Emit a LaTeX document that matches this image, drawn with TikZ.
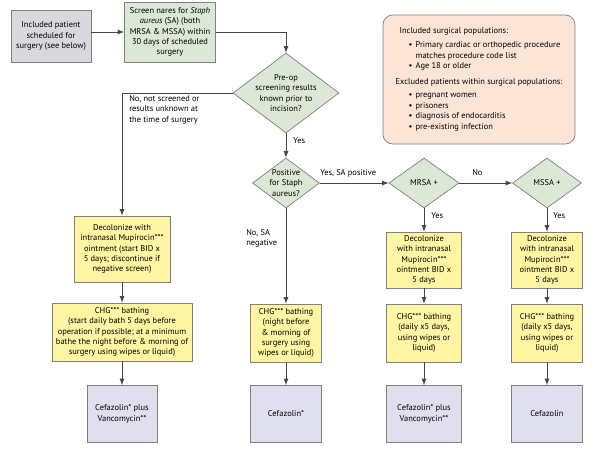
\documentclass[tikz,border=0pt]{standalone}
\usepackage{fontspec}
\setmainfont{PT Sans}
\usetikzlibrary{shapes.geometric}
\definecolor{boxgray}{RGB}{217,217,221}
\definecolor{boxgreen}{RGB}{218,232,213}
\definecolor{boxyellow}{RGB}{255,245,163}
\definecolor{boxlav}{RGB}{223,223,238}
\definecolor{boxpeach}{RGB}{252,229,215}
\definecolor{edgegray}{RGB}{128,128,128}
\definecolor{linegray}{RGB}{70,70,70}
\newcommand*{\popitem}[1]{\hspace*{9.2pt}\makebox[5pt][l]{\textbullet}#1}
\newcommand*{\popcont}[1]{\hspace*{14.2pt}#1}
\tikzset{
	stepbox/.style={draw=edgegray, line width=0.5pt, align=center, inner sep=1pt},
	decision/.style={diamond, draw=edgegray, fill=boxgreen, line width=0.5pt, align=center, inner sep=-6pt, minimum height=1.25cm},
	flow/.style={draw=linegray, line width=0.6pt, -latex},
	lbl/.style={align=left, inner sep=0pt},
}

\begin{document}
\begin{tikzpicture}[x=0.025cm, y=-0.025cm, font=\fontsize{6}{7.4}\selectfont]
		\useasboundingbox(0, 0)rectangle(600, 450);
		\node[stepbox, fill=boxgray, minimum width=2cm, minimum height=1.3cm](patient)at(51, 36){Included patient\\scheduled for\\surgery (see below)};
		\node[stepbox, fill=boxgreen, minimum width=2.275cm, minimum height=1.5cm](screen)at(170, 32){Screen nares for \textit{Staph}\\\textit{aureus} (SA) (both\\MRSA \& MSSA) within\\30 days of scheduled\\surgery};
		\node[decision, minimum width=2.65cm, minimum height=2cm](preop)at(286, 93){Pre-op\\screening results\\known prior to\\incision?};
		\node[decision, minimum width=1.675cm](posit)at(286, 183){Positive\\for Staph\\aureus?};
		\node[decision, minimum width=1.75cm](mrsa)at(424, 183){MRSA +};
		\node[decision, minimum width=1.725cm](mssa)at(547, 183){MSSA +};
		\node[draw=edgegray, fill=boxpeach, line width=0.5pt, rounded corners=7pt, align=left, minimum width=4.8cm, minimum height=3.225cm](pop)at(479, 79.5){\hspace*{2.8pt}Included surgical populations:\\[2.5pt]
			\popitem{Primary cardiac or orthopedic procedure}\\
			\popcont{matches procedure code list}\\
			\popitem{Age 18 or older}\\[3.5pt]
			Excluded patients within surgical populations:\\[2.5pt]
			\popitem{pregnant women}\\
			\popitem{prisoners}\\
			\popitem{diagnosis of endocarditis}\\
			\popitem{pre-existing infection}};
		\node[stepbox, fill=boxyellow, minimum width=2.4cm, minimum height=1.65cm](decolA)at(122, 249){Decolonize with\\intranasal Mupirocin***\\ointment (start BID x\\5 days; discontinue if\\negative screen)};
		\node[stepbox, fill=boxyellow, minimum width=3.5cm, minimum height=1.45cm](chgA)at(122, 332){CHG*** bathing\\(start daily bath 5 days before\\operation if possible; at a minimum\\bathe the night before \& morning of\\surgery using wipes or liquid)};
		\node[stepbox, fill=boxlav, minimum width=1.75cm, minimum height=1.425cm](cefA)at(122, 414){Cefazolin* plus\\Vancomycin**};
		\node[stepbox, fill=boxyellow, minimum width=1.775cm, minimum height=1.45cm](chgB)at(286, 333){CHG*** bathing\\(night before\\\& morning of\\surgery using\\wipes or liquid)};
		\node[stepbox, fill=boxlav, minimum width=1.775cm, minimum height=1.425cm](cefB)at(286, 414){Cefazolin*};
		\node[stepbox, fill=boxyellow, minimum width=1.875cm, minimum height=1.4cm](decolC)at(424, 260){Decolonize\\with intranasal\\Mupirocin***\\ointment BID x\\5 days};
		\node[stepbox, fill=boxyellow, minimum width=1.875cm, minimum height=1.45cm](chgC)at(424, 333){CHG*** bathing\\(daily x5 days,\\using wipes or\\liquid)};
		\node[stepbox, fill=boxlav, minimum width=1.875cm, minimum height=1.425cm](cefC)at(424, 414){Cefazolin* plus\\Vancomycin**};
		\node[stepbox, fill=boxyellow, minimum width=1.775cm, minimum height=1.4cm](decolD)at(547, 260){Decolonize\\with intranasal\\Mupirocin***\\ointment BID x\\5 days};
		\node[stepbox, fill=boxyellow, minimum width=1.775cm, minimum height=1.45cm](chgD)at(547, 333){CHG*** bathing\\(daily x5 days,\\using wipes or\\liquid)};
		\node[stepbox, fill=boxlav, minimum width=1.775cm, minimum height=1.425cm](cefD)at(547, 414){Cefazolin};
		\node[lbl, anchor=north west](unknownlbl)at(129, 95){No, not screened or\\results unknown at\\the time of surgery};
		\node[lbl, anchor=west](yesknown)at(293, 141){Yes};
		\node[lbl, anchor=west](poslbl)at(320, 173){Yes, SA positive};
		\node[lbl, anchor=west](nomrsa)at(472, 173){No};
		\node[lbl, anchor=west](yesmrsa)at(431, 216){Yes};
		\node[lbl, anchor=west](yesmssa)at(553, 216){Yes};
		\node[lbl, anchor=north west](neglbl)at(246, 229){No, SA\\negative};
		\draw[flow](patient.east |- screen.west)--(screen.west);
		\draw[flow](screen.east)-|(preop.north);
		\draw[flow](preop.west)-|(decolA.north);
		\draw[flow](preop.south)--(posit.north);
		\draw[flow](posit.east)--(mrsa.west);
		\draw[flow](mrsa.east)--(mssa.west);
		\draw[flow](mrsa.south)--(decolC.north);
		\draw[flow](mssa.south)--(decolD.north);
		\draw[flow](posit.south)--(chgB.north);
		\foreach \a/\b in {decolA/chgA, chgA/cefA, chgB/cefB, decolC/chgC, chgC/cefC, decolD/chgD, chgD/cefD}
			\draw[flow](\a)--(\b);
	\end{tikzpicture}
\end{document}
